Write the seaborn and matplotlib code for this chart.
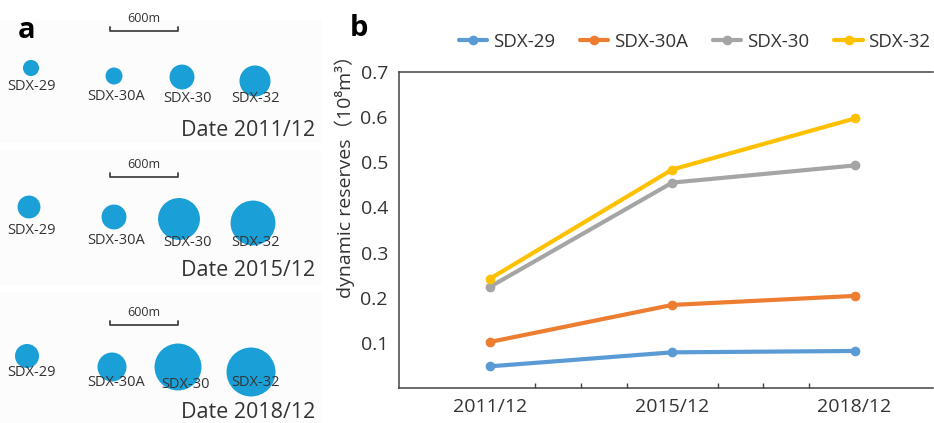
import numpy as np
import pandas as pd
import matplotlib
matplotlib.use("Agg")
import matplotlib.pyplot as plt
from matplotlib.ticker import FixedLocator
from matplotlib.colors import Normalize
import seaborn as sns

sns.set_theme(style="white")
plt.rcParams["font.family"] = ["Open Sans", "Noto Sans", "Noto Sans CJK SC", "DejaVu Sans"]

# ---- data -------------------------------------------------------------
wells = ["SDX-29", "SDX-30A", "SDX-30", "SDX-32"]
dates = ["2011/12", "2015/12", "2018/12"]

# dynamic reserves (10^8 m^3) per well at each date
reserves_sdx29 = [0.048, 0.079, 0.082]
reserves_sdx30a = [0.102, 0.184, 0.204]
reserves_sdx30 = [0.224, 0.455, 0.493]
reserves_sdx32 = [0.242, 0.484, 0.597]

# drainage radius (m) of each well, same order as `wells`
radius_2011 = [71, 75, 110, 137]
radius_2015 = [101, 110, 185, 198]
radius_2018 = [106, 128, 207, 216]

scale_bar_m = 600
y_ticks = [0.1, 0.2, 0.3, 0.4, 0.5, 0.6, 0.7]

colors = ["#5B9BD5", "#ED7D31", "#A5A5A5", "#FFC000"]
bubble_color = "#1A9FD6"
text_color = "#333333"

# ---- figure -----------------------------------------------------------
W, H, DPI = 934, 423, 100
fig = plt.figure(figsize=(W / DPI, H / DPI), dpi=DPI)
fig.patch.set_facecolor("white")

# ---------------- panel a : drainage area maps -------------------------
ax_a = fig.add_axes([0, 0, 330 / W, 1])
ax_a.set_xlim(0, 330)
ax_a.set_ylim(H, 0)
ax_a.axis("off")

px_per_m = 68 / scale_bar_m  # scale bar is 68 px long

row_info = [
    dict(date="2011/12", radii=radius_2011, top=20, bottom=143,
         centers=[(31, 68), (114, 76), (182, 77), (255, 81)],
         labels=[(32, 86), (116, 97), (187, 99), (256, 99)],
         bar_y=31, date_y=130),
    dict(date="2015/12", radii=radius_2015, top=150, bottom=285,
         centers=[(29, 207), (114, 217), (179, 219), (253, 223)],
         labels=[(32, 230), (116, 241), (187, 243), (256, 242)],
         bar_y=177, date_y=271),
    dict(date="2018/12", radii=radius_2018, top=292, bottom=423,
         centers=[(27, 356), (112, 367), (178, 367), (251, 372)],
         labels=[(32, 373), (116, 383), (186, 385), (256, 383)],
         bar_y=325, date_y=413),
]

rows = []
for info in row_info:
    ax_a.add_patch(plt.Rectangle((0, info["top"]), 322, info["bottom"] - info["top"],
                                 facecolor="#fcfcfc", edgecolor="none", zorder=0))
    for well, r_m, (cx, cy) in zip(wells, info["radii"], info["centers"]):
        d_pt = 2 * r_m * px_per_m * 72 / DPI
        rows.append(dict(date=info["date"], well=well, x=cx, y=cy, area=d_pt ** 2))
bubbles = pd.DataFrame(rows)
lo, hi = bubbles["area"].min(), bubbles["area"].max()
sns.scatterplot(data=bubbles, x="x", y="y", size="area", sizes=(lo, hi),
                size_norm=Normalize(lo, hi), color=bubble_color, linewidth=0,
                legend=False, ax=ax_a, zorder=2)

for info in row_info:
    for well, (lx, ly) in zip(wells, info["labels"]):
        ax_a.text(lx, ly, well, ha="center", va="center", fontsize=10.5,
                  color=text_color, zorder=3)
    by = info["bar_y"]
    ax_a.plot([110, 110, 178, 178], [by - 4, by, by, by - 4], color="#444444",
              lw=1.3, zorder=3)
    ax_a.text(144, by - 13, f"{scale_bar_m}m", ha="center", va="center",
              fontsize=9, color=text_color)
    ax_a.text(315, info["date_y"], f"Date {info['date']}", ha="right", va="center",
              fontsize=15.5, color=text_color)

fig.text(27 / W, 1 - 30 / H, "a", fontsize=21, fontweight="bold", ha="center",
         va="center", color="black")

# ---------------- panel b : dynamic reserves ---------------------------
ax_b = fig.add_axes([399 / W, 1 - 388 / H, (933 - 399) / W, (388 - 72) / H])

series = [reserves_sdx29, reserves_sdx30a, reserves_sdx30, reserves_sdx32]
long = pd.DataFrame({
    "date": dates * len(wells),
    "well": np.repeat(wells, len(dates)),
    "reserves": np.concatenate(series),
})
sns.lineplot(data=long, x="date", y="reserves", hue="well", hue_order=wells,
             palette=colors, marker="o", markersize=7, markeredgewidth=0,
             linewidth=3, sort=False, ax=ax_b)

ax_b.set_xlim(-0.4986, 2.43)
ax_b.set_ylim(0, 0.7)
ax_b.set_yticks(y_ticks)
ax_b.set_yticklabels([f"{t:.1f}" for t in y_ticks])
ax_b.xaxis.set_minor_locator(FixedLocator([0.25, 0.5, 0.75, 1.25, 1.5, 1.75]))
ax_b.tick_params(axis="both", which="major", direction="in", length=6, width=1,
                 color="#444444", labelsize=14, labelcolor=text_color)
ax_b.tick_params(axis="x", which="major", pad=7)
ax_b.tick_params(axis="y", which="major", pad=8)
ax_b.tick_params(axis="x", which="minor", direction="in", length=3.5, width=1,
                 color="#444444", bottom=True)
for side in ["left", "top", "bottom"]:
    ax_b.spines[side].set_visible(True)
    ax_b.spines[side].set_color("#444444")
    ax_b.spines[side].set_linewidth(1.1)
ax_b.spines["right"].set_visible(False)

ax_b.set_xlabel("")
ax_b.set_ylabel("dynamic reserves（10⁸m³）", fontsize=14, color=text_color)
ax_b.yaxis.set_label_coords(-0.101, 0.684)
ax_b.yaxis.label.set_va("center")

handles, labels = ax_b.get_legend_handles_labels()
ax_b.get_legend().remove()
fig.legend(handles, labels, loc="center left", bbox_to_anchor=(459 / W, 1 - 42 / H),
           ncol=4, frameon=False, fontsize=13.5, handlelength=1.5,
           handletextpad=0.3, columnspacing=1.35, borderpad=0, borderaxespad=0,
           labelcolor=text_color)

fig.text(359 / W, 1 - 29 / H, "b", fontsize=21, fontweight="bold", ha="center",
         va="center", color="black")

fig.savefig("out.png", dpi=DPI, facecolor="white")
